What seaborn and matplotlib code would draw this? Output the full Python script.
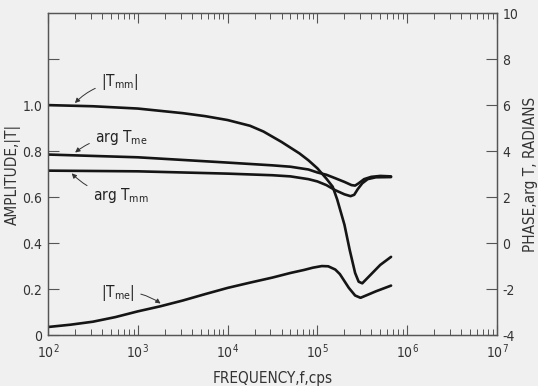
import numpy as np
import pandas as pd
import seaborn as sns
import matplotlib
from matplotlib import pyplot as plt
from matplotlib.ticker import LogLocator, NullFormatter

sns.set_style('ticks')
plt.rcParams['font.family'] = ['DejaVu Sans']
plt.rcParams['font.stretch'] = 'condensed'
plt.rcParams['xtick.direction'] = 'in'
plt.rcParams['ytick.direction'] = 'in'

# amplitude |Tmm| (left axis)
freq_tmm = [100, 316, 1000, 3160, 5620, 10000, 17800, 25100, 39800, 50100, 63100,
            79400, 100000, 126000, 148000, 166000, 200000, 229000, 263000, 288000,
            316000, 398000, 501000, 661000]
amp_tmm = [1.0, 0.995, 0.985, 0.965, 0.952, 0.935, 0.91, 0.885, 0.84, 0.815, 0.79,
           0.76, 0.725, 0.68, 0.645, 0.59, 0.48, 0.37, 0.27, 0.232,
           0.225, 0.265, 0.305, 0.34]

# amplitude |Tme| (left axis)
freq_tme = [100, 178, 316, 562, 1000, 1780, 3160, 5620, 10000, 17800, 31600, 50100,
            70800, 89100, 112000, 132000, 158000, 178000, 224000, 263000, 302000,
            363000, 447000, 661000]
amp_tme = [0.035, 0.045, 0.058, 0.078, 0.103, 0.125, 0.15, 0.178, 0.205, 0.228, 0.25,
           0.27, 0.283, 0.293, 0.30, 0.299, 0.285, 0.265, 0.205, 0.172, 0.162,
           0.175, 0.19, 0.215]

# phase arg Tme (right axis, radians)
freq_arg_me = [100, 1000, 10000, 31600, 50100, 79400, 100000, 126000, 158000,
               200000, 240000, 263000, 288000, 331000, 398000, 501000, 661000]
arg_me = [3.85, 3.73, 3.5, 3.38, 3.32, 3.2, 3.07, 2.97, 2.82,
          2.66, 2.52, 2.5, 2.6, 2.78, 2.88, 2.92, 2.9]

# phase arg Tmm (right axis, radians)
freq_arg_mm = [100, 1000, 10000, 31600, 50100, 79400, 100000, 126000, 158000,
               200000, 234000, 257000, 282000, 316000, 363000, 447000, 661000]
arg_mm = [3.15, 3.12, 3.02, 2.95, 2.9, 2.78, 2.68, 2.52, 2.3,
          2.12, 2.04, 2.1, 2.35, 2.6, 2.78, 2.86, 2.87]

ink = '#151515'
bg = '#f0f0f0'
grey = '#333333'

fig = plt.figure(figsize=(5.38, 3.86), dpi=100, facecolor=bg)
ax = fig.add_axes([0.0892, 0.132, 0.8346, 0.834])
ax.set_facecolor(bg)
ax2 = ax.twinx()

lw = 1.9
sns.lineplot(x=freq_tmm, y=amp_tmm, ax=ax, color=ink, lw=lw, sort=False)
sns.lineplot(x=freq_tme, y=amp_tme, ax=ax, color=ink, lw=lw, sort=False)
sns.lineplot(x=freq_arg_me, y=arg_me, ax=ax2, color=ink, lw=lw, sort=False)
sns.lineplot(x=freq_arg_mm, y=arg_mm, ax=ax2, color=ink, lw=lw, sort=False)

ax.set_xscale('log')
ax.set_xlim(1e2, 1e7)
ax.set_ylim(0, 1.4)
ax2.set_ylim(-4, 10)

ax.xaxis.set_major_locator(LogLocator(base=10, numticks=10))
ax.xaxis.set_minor_locator(LogLocator(base=10, subs=np.arange(2, 10), numticks=20))
ax.xaxis.set_minor_formatter(NullFormatter())
ax.set_yticks([0, 0.2, 0.4, 0.6, 0.8, 1.0, 1.2])
ax.set_yticklabels(['0', '0.2', '0.4', '0.6', '0.8', '1.0', ''])
ax2.set_yticks(range(-4, 11, 2))
ax2.set_yticklabels([str(v) for v in range(-4, 11, 2)])

axis_grey = '#555555'
for a in (ax, ax2):
    for s in a.spines.values():
        s.set_color(axis_grey)
        s.set_linewidth(0.9)
    a.tick_params(which='both', colors=axis_grey, labelcolor=grey, labelsize=10)
ax.tick_params(axis='x', which='both', top=True)
ax.tick_params(axis='x', which='major', length=7, width=0.8, pad=5)
ax.tick_params(axis='x', which='minor', length=4, width=0.7)
ax.tick_params(axis='y', which='major', length=8, width=0.8, pad=4)
ax2.tick_params(axis='y', which='major', length=8, width=0.8, pad=4)

ax.set_xlabel('FREQUENCY,f,cps', fontsize=11, color=grey)
ax.xaxis.set_label_coords(0.5, -0.112)
ax.set_ylabel('AMPLITUDE,|T|', fontsize=11, color=grey)
ax.yaxis.set_label_coords(-0.06, 0.5)
ax2.set_ylabel('PHASE,arg T, RADIANS', fontsize=11, color=grey)
ax2.yaxis.set_label_coords(1.058, 0.5)

arrow = dict(arrowstyle='-|>', color=grey, lw=0.7, mutation_scale=7,
             connectionstyle='arc3,rad=0.2')
txt = dict(fontsize=11, color='#222222')
ax.annotate('|T$_{\\rm mm}$|', xy=(190, 1.0), xytext=(390, 1.1), ha='left', va='center',
            arrowprops=arrow, **txt)
ax.annotate('arg T$_{\\rm me}$', xy=(190, 0.786), xytext=(335, 0.86), ha='left', va='center',
            arrowprops=arrow, **txt)
ax.annotate('arg T$_{\\rm mm}$', xy=(175, 0.712), xytext=(315, 0.605), ha='left', va='center',
            arrowprops=dict(arrow, connectionstyle='arc3,rad=-0.2'), **txt)
ax.annotate('|T$_{\\rm me}$|', xy=(1900, 0.13), xytext=(390, 0.185), ha='left', va='center',
            arrowprops=dict(arrow, connectionstyle='arc3,rad=-0.2'), **txt)

fig.savefig('out.png', dpi=100, facecolor=bg)
